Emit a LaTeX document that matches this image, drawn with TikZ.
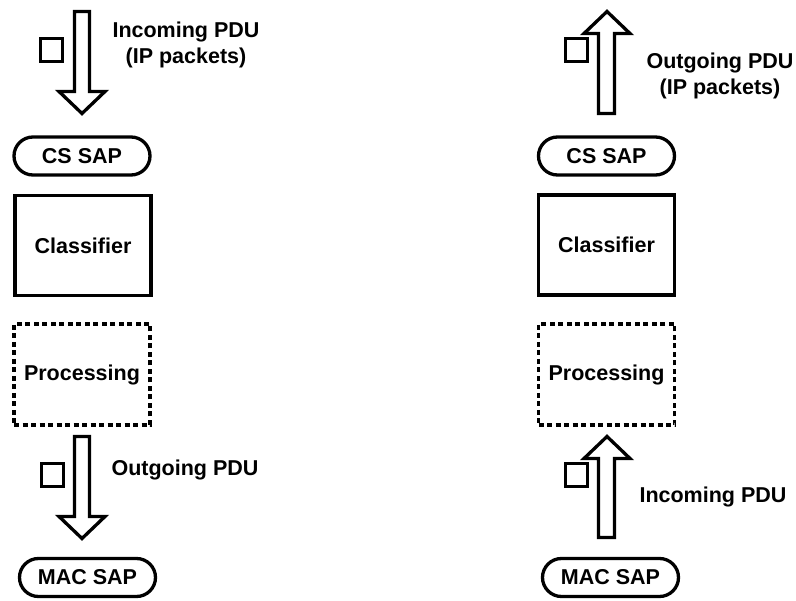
\documentclass[tikz,border=0pt]{standalone}
\usepackage{fontspec}
\setmainfont{Liberation Sans}
\begin{document}
\begin{tikzpicture}[x=1pt,y=-1pt,
  every node/.style={font=\bfseries\fontsize{21.5}{26}\selectfont, inner sep=0pt},
  sap/.style={draw, line width=3.3pt, rounded corners=19pt, minimum width=136pt, minimum height=38pt},
  blockbox/.style={draw, line width=3.3pt, minimum width=136pt, minimum height=100pt},
  dashbox/.style={draw, line width=3.3pt, dash pattern=on 5pt off 3.5pt, minimum width=136pt, minimum height=101pt},
  pkt/.style={draw, line width=3pt, minimum width=22pt, minimum height=23pt},
  barrow/.style={draw, line width=3.3pt, fill=white, line join=miter},
  lbl/.style={align=center}]
\useasboundingbox (0,0) rectangle (796,601);

% left column
\node[sap] (csl) at (82,156) {CS SAP};
\node[blockbox] (cll) at (83,245.5) {Classifier};
\node[dashbox] (prl) at (82,374.5) {Processing};
\node[sap] (macl) at (87.5,577.5) {MAC SAP};
\node[pkt] (pl1) at (51.5,50) {};
\node[pkt] (pl2) at (52,475.5) {};
\node[lbl] (tl1) at (186,45) {Incoming PDU\\(IP packets)};
\node[lbl] (tl2) at (185,470) {Outgoing PDU};
\draw[barrow] (74.5,11.5) -- (89.5,11.5) -- (89.5,91.5) -- (105,91.5) -- (82,113.5) -- (59,91.5) -- (74.5,91.5) -- cycle;
\draw[barrow] (74.5,436.5) -- (89.5,436.5) -- (89.5,516.5) -- (105,516.5) -- (82,538.5) -- (59,516.5) -- (74.5,516.5) -- cycle;

% right column
\node[sap] (csr) at (606.5,156) {CS SAP};
\node[blockbox] (clr) at (606.5,245) {Classifier};
\node[dashbox] (prr) at (606.5,374.5) {Processing};
\node[sap] (macr) at (610.5,577.5) {MAC SAP};
\node[pkt] (pr1) at (576.5,50) {};
\node[pkt] (pr2) at (576,475) {};
\node[lbl] (tr1) at (720,76) {Outgoing PDU\\(IP packets)};
\node[lbl] (tr2) at (713,497) {Incoming PDU};
\draw[barrow] (598.5,113.5) -- (614.5,113.5) -- (614.5,33.5) -- (630,33.5) -- (607,11.5) -- (584,33.5) -- (598.5,33.5) -- cycle;
\draw[barrow] (598.5,537.5) -- (614.5,537.5) -- (614.5,458.5) -- (630,458.5) -- (607,436.5) -- (584,458.5) -- (598.5,458.5) -- cycle;
\end{tikzpicture}
\end{document}
